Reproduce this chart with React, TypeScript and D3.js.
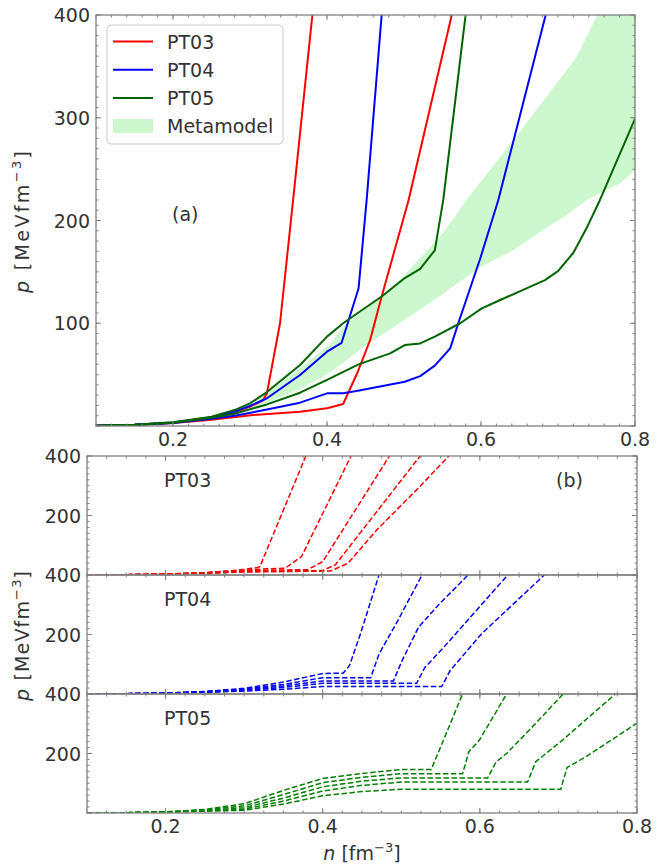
import React from "react";
import * as d3 from "d3";

type Pt = [number, number];

// ---- panel (a): pressure vs density ----
const pt03Stiff: Pt[] = [[0.1,0.3],[0.15,1.1],[0.2,3.2],[0.25,8],[0.28,13.5],[0.3,19],[0.317,25],[0.322,32],[0.339,100],[0.356,220],[0.381,400]];
const pt03Soft: Pt[] = [[0.1,0.3],[0.15,1.0],[0.2,2.8],[0.25,6],[0.304,10.7],[0.365,13.9],[0.4,17.2],[0.421,21.4],[0.44,52.8],[0.456,83.7],[0.471,126],[0.506,220],[0.562,400]];
const pt04Stiff: Pt[] = [[0.1,0.3],[0.15,1.1],[0.2,3.3],[0.25,8.2],[0.28,14],[0.3,19.5],[0.322,27],[0.365,49.6],[0.4,72.3],[0.419,81],[0.441,134],[0.4515,220],[0.471,400]];
const pt04Soft: Pt[] = [[0.1,0.3],[0.15,1.0],[0.2,3.0],[0.25,7],[0.28,10],[0.322,16],[0.365,22.7],[0.4,31.8],[0.421,31.8],[0.44,34.4],[0.501,43.1],[0.521,48.6],[0.54,58.7],[0.56,75.6],[0.5705,100],[0.599,163],[0.6225,220],[0.684,400]];
const pt05Stiff: Pt[] = [[0.1,0.3],[0.15,1.2],[0.2,3.6],[0.25,9],[0.28,15.5],[0.3,22],[0.322,33],[0.365,59.4],[0.4,87],[0.421,100],[0.44,110],[0.471,126],[0.501,144],[0.521,153],[0.54,171],[0.551,220],[0.58,400]];
const pt05Soft: Pt[] = [[0.1,0.3],[0.15,1.1],[0.2,3.2],[0.25,8],[0.28,12],[0.322,21],[0.365,32.4],[0.4,44.8],[0.441,60],[0.482,70.7],[0.501,78.8],[0.521,80.4],[0.54,86.9],[0.573,100],[0.601,114.5],[0.625,122.6],[0.659,134],[0.683,142],[0.7,150.8],[0.72,168.6],[0.737,192.4],[0.7545,220],[0.8,299]];

const metaLow: Pt[] = [[0.1,0.3],[0.2,2.9],[0.25,7],[0.3,15],[0.365,36],[0.404,52],[0.45,78],[0.5,103],[0.54,123],[0.6,155],[0.642,171],[0.677,189],[0.711,205],[0.737,220],[0.78,236],[0.8,249]];
const metaHigh: Pt[] = [[0.1,0.35],[0.2,3.6],[0.25,9],[0.3,20],[0.365,56],[0.404,80],[0.421,96],[0.495,142],[0.551,188],[0.581,220],[0.642,278],[0.724,359],[0.751,400],[0.8,460]];

// ---- panel (b): individual transitions ----
const b03: Pt[][] = [
  [[0.1,0.3],[0.15,1.1],[0.2,3.2],[0.25,8],[0.28,13.5],[0.3,19],[0.317,25],[0.32,28],[0.3785,400]],
  [[0.1,0.3],[0.15,1.0],[0.2,3.0],[0.25,7.5],[0.3,16],[0.33,21],[0.352,22.5],[0.373,62],[0.436,400]],
  [[0.1,0.3],[0.15,1.0],[0.2,2.9],[0.25,7],[0.3,13.5],[0.34,16.5],[0.381,18],[0.4,45],[0.485,400]],
  [[0.1,0.3],[0.15,1.0],[0.2,2.8],[0.25,6.5],[0.3,11.5],[0.36,13.5],[0.4,15],[0.416,34],[0.524,400]],
  [[0.1,0.3],[0.15,1.0],[0.2,2.7],[0.25,6],[0.304,10],[0.365,12],[0.41,13.5],[0.432,39],[0.469,152],[0.522,293],[0.5605,400]],
];
const b04: Pt[][] = [
  [[0.1,0.3],[0.15,1.1],[0.2,3.3],[0.25,8.5],[0.3,19],[0.35,40],[0.4,69],[0.426,70],[0.434,95],[0.448,202],[0.4716,400]],
  [[0.1,0.3],[0.15,1.0],[0.2,3.0],[0.25,7.5],[0.3,16],[0.35,32],[0.4,55],[0.461,55],[0.4716,134],[0.4956,247],[0.5264,400]],
  [[0.1,0.3],[0.15,1.0],[0.2,2.9],[0.25,7],[0.3,14],[0.35,27],[0.4,44],[0.49,44],[0.501,112],[0.522,225],[0.549,304],[0.585,400]],
  [[0.1,0.3],[0.15,1.0],[0.2,2.8],[0.25,6.5],[0.3,12],[0.35,22],[0.4,36],[0.5195,36],[0.53,89],[0.554,157],[0.6355,400]],
  [[0.1,0.3],[0.15,1.0],[0.2,2.7],[0.25,6],[0.3,10],[0.35,16],[0.4,25],[0.5515,25],[0.562,78],[0.602,202],[0.682,400]],
];
const b05: Pt[][] = [
  [[0.1,0.3],[0.15,1.2],[0.2,4],[0.25,12],[0.3,31],[0.35,76],[0.4,116],[0.45,133],[0.5,146],[0.538,146],[0.549,215],[0.578,400]],
  [[0.1,0.3],[0.15,1.1],[0.2,3.6],[0.25,10],[0.3,24],[0.35,62],[0.4,102],[0.45,120],[0.5,132],[0.578,132],[0.586,206],[0.5995,245],[0.634,400]],
  [[0.1,0.3],[0.15,1.0],[0.2,3.2],[0.25,8.5],[0.3,18],[0.35,50],[0.4,88],[0.45,107],[0.5,118],[0.61,118],[0.6207,172],[0.634,200],[0.671,301],[0.706,400]],
  [[0.1,0.3],[0.15,1.0],[0.2,2.9],[0.25,7],[0.3,13],[0.35,40],[0.4,74],[0.45,93],[0.5,104],[0.6607,104],[0.671,172],[0.703,240],[0.7724,400]],
  [[0.1,0.3],[0.15,1.0],[0.2,2.6],[0.25,6],[0.3,9],[0.35,30],[0.4,58],[0.45,72],[0.5,80],[0.703,80],[0.711,153],[0.735,189],[0.8,302]],
];

const xTickLabels = [0.2, 0.4, 0.6, 0.8];
const topYTickLabels = [100, 200, 300, 400];
const botYTickLabels = [200, 400];
const legendItems = ["PT03", "PT04", "PT05", "Metamodel"];

const RED = "#ff0000";
const BLUE = "#0000ff";
const DKGREEN = "#006400";
const GREEN = "#008000";
const FONT = "DejaVu Sans, sans-serif";
const TXT = "#333333";
const AX = "#808080";

const W = 657;
const H = 868;

type Sc = d3.ScaleLinear<number, number>;

function Frame({ x, y, xMajor, xMinor, yMajor, yMinor, xLabels, yLabels }: {
  x: Sc; y: Sc; xMajor: number[]; xMinor: number[]; yMajor: number[]; yMinor: number[];
  xLabels: number[]; yLabels: number[];
}) {
  const [x0, x1] = x.range();
  const [yb, yt] = y.range();
  const ticks: React.ReactNode[] = [];
  const add = (vals: number[], len: number, key: string) => {
    vals.forEach((v, i) => {
      const px = x(v);
      ticks.push(<line key={`${key}b${i}`} x1={px} x2={px} y1={yb} y2={yb - len} />);
      ticks.push(<line key={`${key}t${i}`} x1={px} x2={px} y1={yt} y2={yt + len} />);
    });
  };
  const addY = (vals: number[], len: number, key: string) => {
    vals.forEach((v, i) => {
      const py = y(v);
      ticks.push(<line key={`${key}l${i}`} x1={x0} x2={x0 + len} y1={py} y2={py} />);
      ticks.push(<line key={`${key}r${i}`} x1={x1} x2={x1 - len} y1={py} y2={py} />);
    });
  };
  add(xMajor, 5, "xM");
  add(xMinor, 2.5, "xm");
  addY(yMajor, 5, "yM");
  addY(yMinor, 2.5, "ym");
  return (
    <g>
      <g stroke={AX} strokeWidth={1}>{ticks}</g>
      <rect x={x0} y={yt} width={x1 - x0} height={yb - yt} fill="none" stroke={AX} strokeWidth={1.3} />
      <g fontFamily={FONT} fontSize={19} fill={TXT}>
        {xLabels.map((v) => (
          <text key={`xl${v}`} x={x(v)} y={yb + 20} textAnchor="middle">{v.toFixed(1)}</text>
        ))}
        {yLabels.map((v) => (
          <text key={`yl${v}`} x={x0 - 6} y={y(v)} textAnchor="end" dominantBaseline="central">{v}</text>
        ))}
      </g>
    </g>
  );
}

const PLabel = ({ cx, cy, len }: { cx: number; cy: number; len: number }) => (
  <text transform={`translate(${cx},${cy}) rotate(-90)`} textAnchor="middle" fontFamily={FONT}
    fontSize={19} fill={TXT} textLength={len} lengthAdjust="spacing">
    <tspan fontStyle="italic">p</tspan>
    <tspan> [MeVfm</tspan>
    <tspan fontSize={13} dy={-8}>−3</tspan>
    <tspan dy={8}>]</tspan>
  </text>
);

export default function App() {
  // top panel scales
  const xa = d3.scaleLinear().domain([0.1, 0.8]).range([96, 635]);
  const ya = d3.scaleLinear().domain([0, 400]).range([426, 15]);
  const la = d3.line<Pt>().x((d) => xa(d[0])).y((d) => ya(d[1]));

  // bottom panels
  const xb = d3.scaleLinear().domain([0.1, 0.8]).range([87, 637]);
  const panelTops = [456, 575, 694, 813];
  const yb = [0, 1, 2].map((i) =>
    d3.scaleLinear().domain([0, 400]).range([panelTops[i + 1], panelTops[i]])
  );

  const bandPts = [...metaHigh, ...metaLow.slice().reverse()];
  const bandPath = la(bandPts) + "Z";

  const topXMinor = d3.range(0.1, 0.8001, 0.02);
  const topYMinor = d3.range(0, 400.1, 10);
  const botXMinor = d3.range(0.1, 0.8001, 0.025);
  const botYMinor = d3.range(0, 400.1, 20);

  const topLines: [Pt[], string][] = [
    [pt03Stiff, RED], [pt03Soft, RED],
    [pt04Stiff, BLUE], [pt04Soft, BLUE],
    [pt05Stiff, DKGREEN], [pt05Soft, DKGREEN],
  ];
  const legendColors = [RED, BLUE, DKGREEN];

  const bPanels: [Pt[][], string, string][] = [
    [b03, RED, "PT03"], [b04, BLUE, "PT04"], [b05, GREEN, "PT05"],
  ];

  return (
    <svg width={W} height={H} style={{ position: "absolute", left: 0, top: 0, background: "#fff" }}>
      <defs>
        <clipPath id="clipA"><rect x={96} y={15} width={539} height={411} /></clipPath>
        {yb.map((y, i) => (
          <clipPath key={i} id={`clipB${i}`}>
            <rect x={87} y={y.range()[1]} width={550} height={y.range()[0] - y.range()[1]} />
          </clipPath>
        ))}
      </defs>

      {/* panel (a) */}
      <g clipPath="url(#clipA)">
        <path d={bandPath} fill="#90ee90" fillOpacity={0.45} stroke="none" />
        {topLines.map(([d, c], i) => (
          <path key={i} d={la(d) ?? ""} fill="none" stroke={c} strokeWidth={2} strokeLinejoin="round" />
        ))}
      </g>
      <Frame x={xa} y={ya} xMajor={xTickLabels} xMinor={topXMinor} yMajor={[0, ...topYTickLabels]}
        yMinor={topYMinor} xLabels={xTickLabels} yLabels={topYTickLabels} />

      {/* legend */}
      <g fontFamily={FONT} fontSize={19} fill={TXT}>
        <rect x={107} y={25} width={176} height={119} rx={4} fill="#fff" fillOpacity={0.8} stroke="#cccccc" />
        {legendItems.map((name, i) => {
          const cy = 41.5 + i * 28.2;
          return (
            <g key={name}>
              {i < 3 ? (
                <line x1={113} x2={153} y1={cy} y2={cy} stroke={legendColors[i]} strokeWidth={2} />
              ) : (
                <rect x={113} y={cy - 7} width={40} height={14} fill="#90ee90" fillOpacity={0.45} />
              )}
              <text x={167} y={cy} dominantBaseline="central">{name}</text>
            </g>
          );
        })}
      </g>
      <text x={172} y={221} fontFamily={FONT} fontSize={19} fill={TXT}>(a)</text>
      <PLabel cx={29} cy={222} len={142} />

      {/* panel (b) */}
      {bPanels.map(([curves, color, name], i) => {
        const y = yb[i];
        const lb = d3.line<Pt>().x((d) => xb(d[0])).y((d) => y(d[1]));
        return (
          <g key={name}>
            <g clipPath={`url(#clipB${i})`}>
              {curves.map((c, j) => (
                <path key={j} d={lb(c) ?? ""} fill="none" stroke={color} strokeWidth={1.5}
                  strokeDasharray="5.5,2.5" />
              ))}
            </g>
            <Frame x={xb} y={y} xMajor={xTickLabels} xMinor={botXMinor} yMajor={[0, ...botYTickLabels]}
              yMinor={botYMinor} xLabels={i === 2 ? xTickLabels : []} yLabels={botYTickLabels} />
            <text x={164} y={y.range()[1] + 31} fontFamily={FONT} fontSize={19} fill={TXT}>{name}</text>
          </g>
        );
      })}
      <text x={556} y={487} fontFamily={FONT} fontSize={19} fill={TXT}>(b)</text>
      <PLabel cx={29} cy={636} len={130} />
      <text x={362} y={860} textAnchor="middle" fontFamily={FONT} fontSize={19} fill={TXT}>
        <tspan fontStyle="italic">n</tspan>
        <tspan> [fm</tspan>
        <tspan fontSize={13} dy={-8}>−3</tspan>
        <tspan dy={8}>]</tspan>
      </text>
    </svg>
  );
}
